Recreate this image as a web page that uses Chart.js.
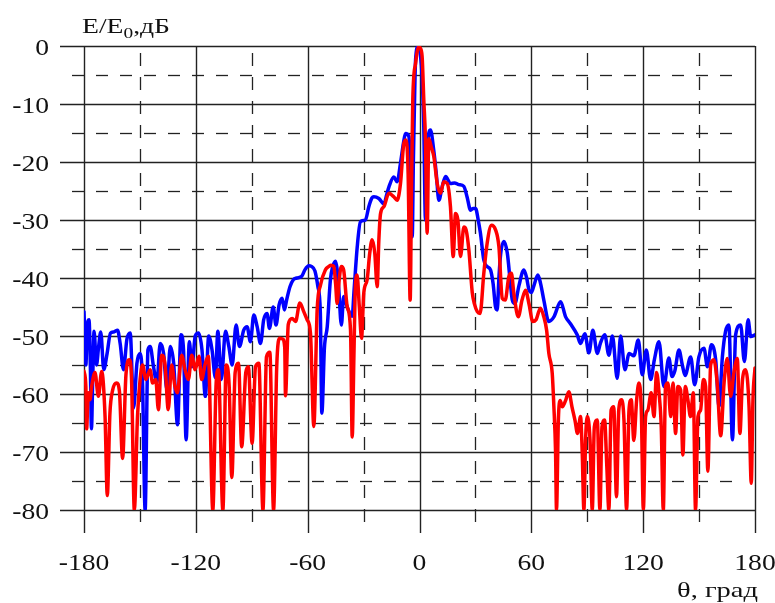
<!DOCTYPE html>
<html>
<head>
<meta charset="utf-8">
<script src="https://cdn.jsdelivr.net/npm/chart.js@4.4.1/dist/chart.umd.min.js"></script>
<style>
  html, body { margin: 0; padding: 0; background: #fff; }
</style>
</head>
<body>
<canvas id="pattern" width="775" height="603"></canvas>
<script>
// Radiation pattern, E/E0 in dB versus angle theta (degrees)
const thetaBlue = [
  -180, -179.3, -179, -178.3, -177.3, -176.6, -176, -175.3, -174.6, -173.3, -172.2, -171, -169.4, -167.6,
  -165.8, -164, -162, -160.6, -158.8, -157, -155.2, -153.4, -151.6, -149.9, -148.6, -147.2, -145.7, -144.5,
  -142.7, -140.9, -139.1, -137.3, -135.5, -133.7, -131.9, -129.8, -128, -126.6, -125.2, -123.5, -122.1,
  -120.3, -118.5, -116.7, -114.9, -113.1, -111.3, -109.5, -108.2, -106.3, -104.1, -102.3, -100.5, -98.4,
  -96.6, -94.3, -92.5, -90.7, -88.9, -87.1, -85.3, -83.6, -81.8, -80.5, -78.5, -77, -75.3, -73.7, -72.5,
  -71.3, -69.5, -67.7, -65.9, -63.2, -61.5, -59.4, -58, -56.1, -54.5, -53.2, -52.4, -51, -49.5, -47.8,
  -46.5, -45.1, -44.2, -43.3, -41.9, -40.7, -38.9, -37.5, -36.1, -35.2, -33.4, -31.7, -29, -27.2, -25.5,
  -24.5, -21.8, -19.1, -17.5, -16.4, -13.8, -12, -10.2, -8.5, -7.5, -5.7, -4.8, -3.9, -3.3, -3, -2.1,
  -0.7, -0.2, 0.5, 1.4, 2.3, 3.2, 4, 5, 5.9, 7.6, 9, 10.4, 12.2, 14, 16.6, 18.8, 21.1, 23.8, 25.5, 27.4,
  28.8, 30.1, 31.5, 32.7, 34.5, 36.2, 38.1, 39.5, 40.8, 41.7, 42.6, 43.5, 45.3, 47.1, 48.8, 49.8, 51.2,
  53.3, 56, 57.5, 58.7, 60, 61.3, 63.5, 65, 66.7, 69.4, 72.1, 75.7, 78.4, 81, 84.6, 86.4, 88.7, 90.9,
  93, 95.4, 97, 99.4, 101.6, 103.5, 106.1, 107.9, 110.2, 112.5, 115, 117.4, 119.5, 121.7, 124, 126,
  128.5, 131.1, 133.8, 135.5, 137, 139.2, 141, 142.5, 145.5, 147.6, 149.9, 152.6, 154.5, 156.6, 158.9,
  160.7, 162.5, 164.2, 166, 167.9, 169.6, 172.3, 174.3, 176.3, 177.7, 180
];
const levelBlue = [
  -45.8, -52, -55, -48.7, -47.2, -55, -66, -57, -49.2, -55, -52, -49.3, -55.8, -53,
  -49.5, -49.3, -49, -51.3, -55.8, -50.6, -49.5, -62.4, -54.7, -53, -58.1, -80, -52.4, -51.8,
  -55.3, -58.1, -51.3, -53, -59.3, -51.8, -54.7, -65.3, -49.8, -52.4, -67.9, -51, -55.3,
  -50, -49.5, -52.4, -60.4, -50, -52.4, -57.2, -49.2, -57.5, -49.2, -51.8, -55, -48.1,
  -51.8, -49, -48.4, -51, -46.4, -48.4, -51.3, -47.2, -46.1, -48.7, -45, -48.1, -44.6, -43.5, -45.5,
  -43.8, -41.5, -40.3, -40, -39.7, -38.6, -37.9, -38, -38.8, -41.5, -46, -63.3, -52, -48.4, -40.3,
  -38, -37.1, -38.5, -42, -48.1, -43.2, -44.9, -46, -46.6, -42.6, -34.6, -30.3, -30, -27.7, -26.2,
  -26, -26.3, -27.2, -25.5, -24.3, -22.6, -23.4, -20.2, -16.5, -15.1, -15.6, -22, -32.9, -20, -15, -2.4,
  -0.1, -0.3, -1.5, -5.3, -14, -30, -20, -15, -14.5, -17.9, -22, -26.6, -24.2, -22.5, -23.7, -23.6, -23.9, -24.2, -26, -28.3,
  -28, -28, -30, -32.3, -36.9, -38, -38.6, -41, -45, -45.5, -40, -36, -33.7, -35.7, -41, -43.8, -44.4,
  -41.4, -38.6, -40, -42, -42.5, -41.4, -39.5, -41, -43.8, -47.5, -46.7, -44.1, -46.7, -47.9, -49.8, -51.3, -49.6, -52.9,
  -49, -53, -51.3, -49.8, -53.3, -50, -57.3, -50, -55.8, -53, -53.4, -50.7, -56.7, -52.4, -57.5, -54.1,
  -51, -58.7, -53.8, -57, -56, -52.4, -55, -56.8, -53.6, -58.4, -53.6, -52.1, -55.3, -51.5, -54.1,
  -62.1, -53.6, -49.2, -48.1, -67.9, -49.8, -48.1, -54.4, -47.2, -50.1, -49.8
];

const thetaRed = [
  -180, -179, -178.6, -177.7, -176.8, -175.9, -174.1, -172.3, -170.5, -168.7, -167.5, -166.1, -164.6,
  -162.5, -161, -159.3, -157.5, -155.7, -154.5, -153, -151.3, -149.9, -148.6, -146.8, -144.5, -143.2,
  -141.5, -140.1, -138.3, -136.5, -134.8, -133, -131.2, -129.9, -127.6, -125.8, -124, -122.2, -120.4,
  -118.3, -116.9, -115.1, -113.3, -110.9, -109.1, -107.9, -105.5, -103.7, -102.1, -100.7, -98.9, -97.1,
  -95.4, -93.2, -91.8, -89.8, -88, -86.2, -84, -82.1, -80.3, -78.3, -76.6, -75, -73.5, -72.3, -71.9,
  -70.4, -68.3, -66.5, -64.2, -62.1, -60.3, -58.5, -56.7, -54.9, -53.1, -50.5, -48.6, -47.5, -46, -45,
  -44.2, -43, -41.9, -40.7, -38.8, -37, -36.1, -35.2, -34.4, -33.5, -32.3, -31.1, -29.9, -28.1, -26.7,
  -25.4, -24, -22.7, -21.8, -20.9, -19.1, -16.4, -13.8, -12, -10.2, -8.4, -7.2, -6.1, -5, -4.3, -3.6,
  -2.1, -0.4, 0.3, 1.4, 2.3, 3.2, 4.1, 5, 6.3, 7.7, 9.5, 11.3, 13, 14.9, 16.6, 18.1, 19.3, 20.6, 22,
  23.8, 25, 26.5, 28.3, 29.5, 31, 32.5, 34.5, 36.3, 38.6, 40.8, 42.6, 44.4, 46, 47.9, 49.3, 50.6, 53,
  55, 56.9, 58.7, 60.8, 62.5, 64.9, 66.7, 68.2, 69.4, 71.2, 72.1, 73, 73.5, 74.5, 75.5, 76.6, 78.4,
  80.1, 81.8, 83.4, 84.8, 86.4, 87.3, 88.2, 89.1, 90, 91.5, 92.7, 93.8, 95.4, 96.8, 97.9, 99.3, 100.5,
  101.6, 102.8, 104.2, 105.7, 106.9, 108.4, 109.7, 111.1, 112.4, 113.6, 115, 116.5, 117.7, 119, 120.1,
  121.3, 122.5, 124.3, 125.8, 127.2, 128.5, 129.7, 130.8, 132, 133.3, 134.8, 136, 137.4, 138.6, 140.1,
  141.3, 142.6, 144, 145.4, 146.9, 148.1, 149.4, 150.8, 152.3, 153.5, 154.7, 156.2, 157.9, 159.7,
  161.6, 163.4, 165.1, 166.9, 168.7, 170.5, 171.9, 173.3, 175, 176.8, 178, 178.9, 180
];
const levelRed = [
  -56.1, -58.7, -66, -59.8, -61, -58.7, -56.3, -60.4, -56.1, -63.9, -77.5, -63.4, -59.3,
  -58.1, -59.5, -71.1, -56.7, -54.1, -57.3, -80, -63.9, -57.5, -55, -57.5, -55.8, -58.1,
  -57.5, -62.7, -53.3, -55, -62.7, -55, -58.7, -59.8, -53.3, -55.8, -57.5, -53.3, -55.8,
  -53.5, -57.5, -55, -53.5, -80, -58.1, -55.8, -80, -55, -58.7, -74.4, -56.3, -54.7,
  -69.1, -56.3, -55.3, -68.5, -55.3, -54.7, -80, -53.6, -52.8, -80, -55.3, -50.4, -50.5, -52, -60.3,
  -48, -47, -47.5, -44.3, -45.8, -47.2, -49.5, -65.6, -45.5, -41.2, -38.6, -38, -37.8, -38, -41,
  -44.4, -40, -38, -38.6, -44.9, -49, -67.4, -53.6, -41.5, -39.5, -44.9, -50.4, -42.6, -40.3, -35.7,
  -33.4, -35.7, -41.5, -33.4, -28.9, -27.7, -25.4, -26, -26.6, -23.7, -16.8, -16.2, -22, -43.8, -24.9, -9.2,
  -3, -0.1, -0.3, -1.8, -9.3, -16.2, -32.3, -16, -17.4, -19.1, -23.7, -25.4, -23.4, -23.7, -27.7, -36.3, -28.9, -30, -36.3,
  -31.2, -31.7, -35.2, -42.5, -44.5, -45.8, -46.1, -39.2, -34, -30.9, -31.7, -34.6, -43.5, -43.8, -39.8, -39.2, -42.6, -46.7,
  -43.8, -42.1, -44.4, -47.5, -47.2, -45.2, -46.7, -49, -53, -56.4, -62.2, -70, -80, -64.5, -61.1, -62.2, -61.1,
  -59.6, -62.2, -64.5, -66.8, -63.9, -70, -80, -68, -63.9, -68, -80, -65.7, -64.5, -80, -65.7, -64.5, -72.5,
  -80, -62.8, -62.2, -77.7, -62.8, -61, -64.5, -80, -62.8, -61, -68, -61, -58.1, -62.8, -80,
  -63.9, -62.8, -59.8, -63.9, -56.3, -59.8, -65.7, -80, -58.7, -58.1, -63.9, -58.1, -66.8, -58.7, -59.3,
  -70.5, -58.7, -61, -63.9, -59.8, -80, -63.9, -62.8, -57.5, -58.7, -73.3, -55, -54.1, -58.1,
  -67.2, -58.1, -53.9, -60.4, -56.3, -53.9, -66.8, -57.5, -55.8, -62.2, -75.4, -61, -55.5
];

// grid: solid lines on the labelled values, dashed ones half-way between
const xDashed = [-150, -90, -30, 30, 90, 150];
const yDashed = [-5, -15, -25, -35, -45, -55, -65, -75];

const toPoints = (xs, ys) => xs.map((x, i) => ({ x: x, y: ys[i] }));

function drawStretched(ctx, str, x, y, sx, align) {
  ctx.save();
  ctx.translate(x, y);
  ctx.scale(sx, 1);
  ctx.textAlign = align;
  ctx.fillText(str, 0, 0);
  ctx.restore();
}

const gridPlugin = {
  id: 'mcadGrid',
  beforeDatasetsDraw(chart) {
    const { ctx, chartArea: a, scales: { x, y } } = chart;
    ctx.save();
    ctx.strokeStyle = '#222';
    ctx.lineWidth = 1.4;
    // solid lines
    y.ticks.forEach(t => {
      const py = Math.round(y.getPixelForValue(t.value)) + 0.5;
      ctx.beginPath(); ctx.moveTo(a.left - 24, py); ctx.lineTo(a.right, py); ctx.stroke();
    });
    x.ticks.forEach(t => {
      const px = Math.round(x.getPixelForValue(t.value)) + 0.5;
      ctx.beginPath(); ctx.moveTo(px, a.top); ctx.lineTo(px, a.bottom + 23); ctx.stroke();
    });
    // dashed lines
    ctx.lineWidth = 1.3;
    ctx.setLineDash([12, 12]);
    yDashed.forEach(v => {
      const py = Math.round(y.getPixelForValue(v)) + 0.5;
      ctx.beginPath(); ctx.moveTo(a.left - 12, py); ctx.lineTo(a.right - 12, py); ctx.stroke();
    });
    ctx.setLineDash([13, 11]);
    xDashed.forEach(v => {
      const px = Math.round(x.getPixelForValue(v)) + 0.5;
      ctx.beginPath(); ctx.moveTo(px, a.top + 7); ctx.lineTo(px, a.bottom + 12); ctx.stroke();
    });
    ctx.restore();
  },
  afterDraw(chart) {
    const { ctx, chartArea: a, scales: { x, y } } = chart;
    ctx.save();
    ctx.fillStyle = '#111';
    ctx.textBaseline = 'alphabetic';
    ctx.font = '23px "Liberation Serif", "Times New Roman", serif';
    y.ticks.forEach(t => {
      drawStretched(ctx, String(t.value), 49, y.getPixelForValue(t.value) + 8.5, 1.2, 'right');
    });
    x.ticks.forEach(t => {
      drawStretched(ctx, String(t.value), x.getPixelForValue(t.value), 570, 1.2, 'center');
    });

    // axis titles
    const big = '20px "Liberation Serif", "Times New Roman", serif';
    const small = '14px "Liberation Serif", "Times New Roman", serif';
    ctx.font = big;
    const w1 = ctx.measureText('E/E').width;
    const w3 = ctx.measureText(',дБ').width;
    ctx.font = small;
    const w2 = ctx.measureText('0').width;
    const sy = 88 / (w1 + w2 + w3);
    let cx = 82;
    ctx.font = big;
    drawStretched(ctx, 'E/E', cx, 33, sy, 'left'); cx += w1 * sy;
    ctx.font = small;
    drawStretched(ctx, '0', cx, 38, sy, 'left'); cx += w2 * sy;
    ctx.font = big;
    drawStretched(ctx, ',дБ', cx, 33, sy, 'left');

    ctx.font = '21px "Liberation Serif", "Times New Roman", serif';
    const wx = ctx.measureText('θ, град').width;
    drawStretched(ctx, 'θ, град', 758, 597, 81 / wx, 'right');
    ctx.restore();
  }
};

new Chart(document.getElementById('pattern'), {
  type: 'line',
  data: {
    datasets: [
      {
        label: 'E1',
        data: toPoints(thetaBlue, levelBlue),
        borderColor: '#0000ff',
        borderWidth: 3.5,
        order: 2
      },
      {
        label: 'E2',
        data: toPoints(thetaRed, levelRed),
        borderColor: '#ff0000',
        borderWidth: 3.5,
        order: 1
      }
    ]
  },
  options: {
    responsive: false,
    animation: false,
    layout: { padding: { top: 46, right: 20, left: 0, bottom: 0 } },
    elements: {
      point: { radius: 0 },
      line: { cubicInterpolationMode: 'monotone', borderJoinStyle: 'round', borderCapStyle: 'round' }
    },
    plugins: { legend: { display: false }, tooltip: { enabled: false } },
    scales: {
      x: {
        type: 'linear',
        min: -180,
        max: 180,
        ticks: { stepSize: 60, display: false },
        grid: { display: false, drawTicks: false },
        border: { display: false },
        afterFit: s => { s.height = 93; }
      },
      y: {
        type: 'linear',
        min: -80,
        max: 0,
        ticks: { stepSize: 10, display: false },
        grid: { display: false, drawTicks: false },
        border: { display: false },
        afterFit: s => { s.width = 84; }
      }
    }
  },
  plugins: [gridPlugin]
});
</script>
</body>
</html>
